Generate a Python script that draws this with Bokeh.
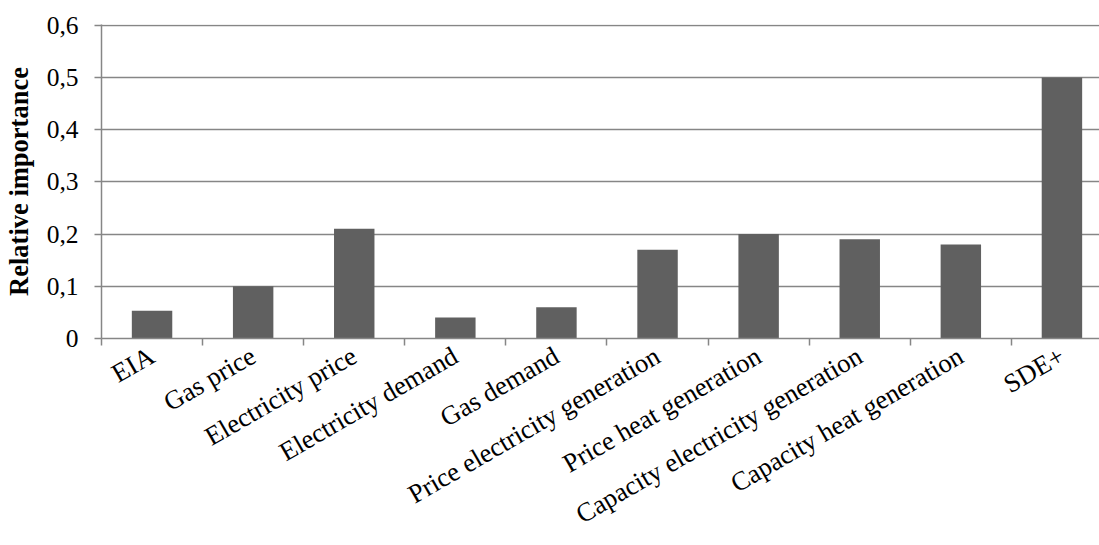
import math
from bokeh.plotting import figure
from bokeh.models import (Range1d, FixedTicker, CustomJSTickFormatter, ColumnDataSource)
from bokeh.embed import file_html
from bokeh.resources import INLINE

categories = ["EIA", "Gas price", "Electricity price", "Electricity demand", "Gas demand",
              "Price electricity generation", "Price heat generation",
              "Capacity electricity generation", "Capacity heat generation", "SDE+"]
importance = [0.053, 0.10, 0.21, 0.04, 0.06, 0.17, 0.20, 0.19, 0.18, 0.50]
y_ticks = [0, 0.1, 0.2, 0.3, 0.4, 0.5, 0.6]
y_tick_labels = ["0", "0,1", "0,2", "0,3", "0,4", "0,5", "0,6"]

FONT = "Liberation Serif"
GRID = "#868686"
BAR = "#606060"

centers = [i + 0.5 for i in range(len(categories))]
src = ColumnDataSource(dict(x=centers, top=importance, cat=categories))

p = figure(width=1099, height=545, output_backend="svg", toolbar_location=None,
           x_range=Range1d(0, 999 / 101.2), y_range=Range1d(0, 0.6015),
           min_border_left=100, min_border_right=0, min_border_top=24, min_border_bottom=205)
p.outline_line_color = None
p.background_fill_color = "white"
p.border_fill_color = "white"

p.vbar(x="x", top="top", width=0.4, bottom=0, source=src, fill_color=BAR, line_color=None)

# x axis
xa = p.xaxis[0]
xa.ticker = FixedTicker(ticks=centers, minor_ticks=list(range(len(categories) + 1)))
xa.formatter = CustomJSTickFormatter(args=dict(cat_labels=categories),
                                     code="return cat_labels[Math.floor(tick)] || ''")
xa.major_tick_line_color = None
xa.major_tick_out = 7
xa.minor_tick_line_color = GRID
xa.minor_tick_line_width = 1.5
xa.minor_tick_out = 7
xa.minor_tick_in = 0
xa.axis_line_color = GRID
xa.axis_line_width = 1.5
xa.major_label_orientation = math.pi / 6
xa.major_label_text_font = FONT
xa.major_label_text_font_size = "26.5px"
xa.major_label_text_color = "black"
xa.major_label_standoff = 8

# y axis
ya = p.yaxis[0]
ya.ticker = FixedTicker(ticks=y_ticks, minor_ticks=[])
ya.formatter = CustomJSTickFormatter(args=dict(yvals=y_ticks, ylabs=y_tick_labels), code="""
for (let i = 0; i < yvals.length; i++) { if (Math.abs(yvals[i] - tick) < 1e-9) return ylabs[i]; }
return '';
""")
ya.major_tick_line_color = GRID
ya.major_tick_line_width = 1.5
ya.major_tick_out = 7
ya.major_tick_in = 0
ya.axis_line_color = GRID
ya.axis_line_width = 1.5
ya.major_label_text_font = FONT
ya.major_label_text_font_size = "25.5px"
ya.major_label_text_color = "black"
ya.major_label_standoff = 16
ya.axis_label = "Relative importance"
ya.axis_label_text_font = FONT
ya.axis_label_text_font_size = "26.5px"
ya.axis_label_text_font_style = "bold"
ya.axis_label_text_color = "black"
ya.axis_label_standoff = 10

p.xgrid.grid_line_color = None
p.ygrid.ticker = FixedTicker(ticks=y_ticks)
p.ygrid.grid_line_color = GRID
p.ygrid.grid_line_width = 1.5

open("out.html", "w").write(file_html(p, INLINE))
